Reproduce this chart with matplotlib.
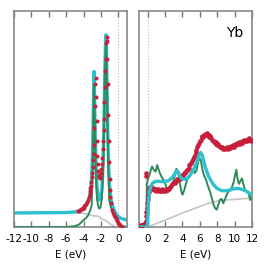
import matplotlib
matplotlib.use("Agg")
import matplotlib.pyplot as plt

plt.rcParams['axes.unicode_minus'] = False
plt.rcParams['font.family'] = ['DejaVu Sans']

CYAN = '#2fc0d0'
GREEN = '#2e8b57'
RED = '#c8203c'
GREY = '#c4c4c4'
SPINE = '#888888'

# ---------------- left panel (valence band) ----------------
left_ticks = [-12, -10, -8, -6, -4, -2, 0]

left_cyan_x = [-12, -6, -5, -4.5, -4, -3.6, -3.3, -3.15, -3.05, -2.95, -2.87, -2.8, -2.73,
               -2.65, -2.55, -2.45, -2.3, -2.2, -2.05, -1.9, -1.8, -1.7, -1.62, -1.55,
               -1.48, -1.42, -1.36, -1.28, -1.2, -1.1, -1.0, -0.8, -0.5, -0.2, 0.0, 0.3, 1.0]
left_cyan_y = [0.065, 0.067, 0.07, 0.075, 0.085, 0.105, 0.14, 0.18, 0.24, 0.36, 0.55, 0.72, 0.6,
               0.42, 0.27, 0.19, 0.14, 0.125, 0.13, 0.17, 0.24, 0.38, 0.55, 0.72,
               0.84, 0.89, 0.82, 0.62, 0.42, 0.27, 0.19, 0.12, 0.08, 0.058, 0.048, 0.04, 0.032]

left_green_x = [-12, -6, -5, -4.5, -4, -3.7, -3.46, -3.2, -3.07, -2.97, -2.88, -2.8, -2.72,
                -2.64, -2.55, -2.45, -2.3, -2.2, -2.05, -1.9, -1.8, -1.7, -1.62, -1.55,
                -1.48, -1.42, -1.36, -1.28, -1.2, -1.1, -1.04, -0.9, -0.76, -0.55, -0.38,
                -0.2, 0.0, 0.2, 0.4, 1.0]
left_green_y = [0.0, 0.0, 0.004, 0.012, 0.032, 0.042, 0.055, 0.08, 0.10, 0.22, 0.45, 0.66, 0.52,
                0.34, 0.2, 0.13, 0.095, 0.085, 0.09, 0.13, 0.2, 0.33, 0.5, 0.68,
                0.8, 0.85, 0.78, 0.56, 0.36, 0.2, 0.125, 0.1, 0.08, 0.06, 0.048,
                0.036, 0.025, 0.014, 0.005, 0.0]

left_grey_x = [-12, -4.3, -4.0, -3.4, -2.9, -2.3, -1.9, -1.3, -0.96, -0.6, -0.4, 1.0]
left_grey_y = [0.065, 0.065, 0.063, 0.058, 0.052, 0.05, 0.037, 0.026, 0.015, 0.006, 0.0, 0.0]

left_red_x = [-4.6, -4.5, -4.4, -4.3, -4.2, -4.1, -4.0, -3.9, -3.8, -3.7, -3.6, -3.5, -3.4,
              -3.3, -3.25, -3.2, -3.15, -3.1, -3.05, -3.0, -2.95, -2.9, -2.85, -2.8, -2.75,
              -2.7, -2.65, -2.6, -2.55, -2.5, -2.45, -2.4, -2.35, -2.3, -2.25, -2.2, -2.15,
              -2.1, -2.05, -2.0, -1.95, -1.9, -1.85, -1.8, -1.75, -1.7, -1.65, -1.6, -1.55,
              -1.5, -1.45, -1.4, -1.35, -1.3, -1.25, -1.2, -1.15, -1.1, -1.05, -1.0, -0.95,
              -0.9, -0.8, -0.7, -0.6, -0.5, -0.4, -0.3, -0.2, -0.1, 0.0, 0.1, 0.2, 0.3, 0.4]
left_red_y = [0.072, 0.075, 0.079, 0.082, 0.085, 0.088, 0.09, 0.095, 0.10, 0.108, 0.115, 0.125, 0.14,
              0.155, 0.165, 0.18, 0.19, 0.21, 0.23, 0.25, 0.28, 0.31, 0.34, 0.38, 0.46,
              0.56, 0.66, 0.69, 0.60, 0.49, 0.40, 0.33, 0.29, 0.26, 0.24, 0.23, 0.225,
              0.23, 0.24, 0.25, 0.27, 0.29, 0.32, 0.36, 0.40, 0.45, 0.50, 0.58, 0.65,
              0.72, 0.78, 0.85, 0.88, 0.86, 0.78, 0.66, 0.52, 0.40, 0.30, 0.22, 0.17,
              0.14, 0.11, 0.08, 0.065, 0.055, 0.048, 0.04, 0.033, 0.027, 0.02, 0.012, 0.007, 0.003, 0.001]

# ---------------- right panel (conduction band) ----------------
right_ticks = [0, 2, 4, 6, 8, 10, 12]

right_cyan_x = [-1.0, -0.05, 0.0, 0.05, 0.1, 0.2, 0.3, 0.5, 0.8, 1.2, 1.6, 2.0, 2.4, 2.8, 3.1,
                3.3, 3.5, 3.7, 4.0, 4.4, 4.8, 5.2, 5.6, 5.9, 6.1, 6.3, 6.6, 7.0, 7.5, 8.0,
                8.5, 9.0, 9.5, 10.0, 10.5, 11.0, 11.5, 12.0]
right_cyan_y = [0.0, 0.0, 0.02, 0.07, 0.12, 0.16, 0.18, 0.20, 0.21, 0.212, 0.21, 0.21, 0.215, 0.228, 0.245,
                0.26, 0.255, 0.235, 0.222, 0.22, 0.235, 0.26, 0.295, 0.33, 0.345, 0.33, 0.28, 0.235, 0.20, 0.178,
                0.168, 0.168, 0.172, 0.178, 0.178, 0.172, 0.162, 0.148]

right_green_x = [-0.15, -0.1, 0.0, 0.2, 0.4, 0.5, 0.7, 0.9, 1.1, 1.3, 1.5, 1.7, 1.9, 2.1, 2.3,
                 2.5, 2.7, 2.9, 3.1, 3.3, 3.5, 3.7, 3.9, 4.0, 4.2, 4.4, 4.6, 4.8, 5.0, 5.2,
                 5.4, 5.6, 5.8, 5.95, 6.1, 6.3, 6.5, 6.7, 6.95, 7.2, 7.4, 7.6, 7.8, 7.95,
                 8.1, 8.3, 8.5, 8.7, 8.9, 9.1, 9.3, 9.5, 9.7, 9.9, 10.05, 10.2, 10.35, 10.5,
                 10.7, 10.85, 11.0, 11.2, 11.4, 11.6, 11.8, 11.9, 12.0]
right_green_y = [0.0, 0.2, 0.22, 0.24, 0.27, 0.28, 0.265, 0.256, 0.287, 0.26, 0.24, 0.225, 0.215, 0.19, 0.16,
                 0.17, 0.19, 0.20, 0.235, 0.27, 0.255, 0.20, 0.16, 0.15, 0.17, 0.20, 0.225, 0.24, 0.255, 0.265,
                 0.25, 0.26, 0.30, 0.32, 0.31, 0.265, 0.235, 0.22, 0.187, 0.16, 0.13, 0.10, 0.085, 0.08,
                 0.10, 0.125, 0.13, 0.11, 0.13, 0.15, 0.165, 0.17, 0.185, 0.21, 0.24, 0.265, 0.22, 0.20,
                 0.215, 0.225, 0.2, 0.17, 0.165, 0.156, 0.125, 0.14, 0.13]

right_grey_x = [-1.0, 0.0, 1.0, 2.0, 3.0, 4.0, 5.0, 6.0, 7.0, 8.0, 9.0, 10.0, 11.0, 12.0]
right_grey_y = [0.0, 0.0, 0.016, 0.032, 0.048, 0.065, 0.08, 0.095, 0.11, 0.12, 0.125, 0.128, 0.131, 0.133]

right_red_x = [-1.0, -0.9, -0.8, -0.7, -0.6, -0.5, -0.4, -0.3, -0.25, -0.2, -0.15, -0.1, -0.05, 0.0,
               0.05, 0.1, 0.15, 0.2, 0.3, 0.4, 0.5, 0.6, 0.7, 0.8, 0.9, 1.0, 1.1, 1.2, 1.3, 1.4,
               1.5, 1.6, 1.7, 1.8, 1.9, 2.0, 2.1, 2.2, 2.3, 2.4, 2.5, 2.6, 2.7, 2.8, 2.9, 3.0,
               3.1, 3.2, 3.3, 3.4, 3.5, 3.6, 3.7, 3.8, 3.9, 4.0, 4.1, 4.2, 4.3, 4.4, 4.5, 4.6,
               4.7, 4.8, 4.9, 5.0, 5.1, 5.2, 5.3, 5.4, 5.5, 5.6, 5.7, 5.8, 5.9, 6.0, 6.1, 6.2,
               6.3, 6.4, 6.5, 6.6, 6.7, 6.8, 6.9, 7.0, 7.1, 7.2, 7.3, 7.4, 7.5, 7.6, 7.7, 7.8,
               7.9, 8.0, 8.1, 8.2, 8.3, 8.4, 8.5, 8.6, 8.7, 8.8, 8.9, 9.0, 9.1, 9.2, 9.3, 9.4,
               9.5, 9.6, 9.7, 9.8, 9.9, 10.0, 10.1, 10.2, 10.3, 10.4, 10.5, 10.6, 10.7, 10.8,
               10.9, 11.0, 11.1, 11.2, 11.3, 11.4, 11.5, 11.6, 11.7, 11.8, 11.9, 12.0,
               -0.22, -0.18]
right_red_y = [0.006, 0.007, 0.006, 0.008, 0.008, 0.01, 0.012, 0.02, 0.03, 0.05, 0.07, 0.09, 0.11, 0.13,
               0.15, 0.16, 0.175, 0.18, 0.185, 0.19, 0.175, 0.18, 0.172, 0.178, 0.168, 0.175, 0.17, 0.176, 0.168, 0.172,
               0.166, 0.174, 0.17, 0.165, 0.172, 0.168, 0.176, 0.17, 0.178, 0.182, 0.178, 0.186, 0.19, 0.2, 0.205, 0.21,
               0.206, 0.215, 0.212, 0.22, 0.216, 0.228, 0.222, 0.23, 0.236, 0.24, 0.236, 0.248, 0.252, 0.258, 0.262, 0.27,
               0.275, 0.285, 0.29, 0.298, 0.305, 0.315, 0.325, 0.335, 0.345, 0.355, 0.37, 0.38, 0.39, 0.4, 0.405, 0.415,
               0.42, 0.415, 0.428, 0.432, 0.425, 0.435, 0.428, 0.425, 0.418, 0.422, 0.41, 0.405, 0.4, 0.398, 0.39, 0.392,
               0.385, 0.38, 0.382, 0.375, 0.37, 0.372, 0.365, 0.37, 0.362, 0.368, 0.36, 0.365, 0.37, 0.362, 0.368, 0.372,
               0.366, 0.374, 0.37, 0.378, 0.372, 0.38, 0.385, 0.378, 0.39, 0.384, 0.392, 0.386, 0.395, 0.39,
               0.398, 0.394, 0.402, 0.396, 0.405, 0.4, 0.408, 0.402, 0.41, 0.404, 0.398, 0.402,
               0.25, 0.235]


def style_axes(ax, ticks):
    ax.set_ylim(0, 1)
    ax.set_yticks([])
    ax.set_xticks(ticks)
    ax.set_xticklabels([str(t) for t in ticks])
    ax.tick_params(axis='x', direction='in', top=True, bottom=True, length=4,
                   width=1.0, color='#777777', labelsize=7.5, pad=5)
    for s in ax.spines.values():
        s.set_color(SPINE)
        s.set_linewidth(1.2)
    ax.set_xlabel('E (eV)', fontsize=7.5, labelpad=4)
    ax.axvline(0, color='#bbbbbb', lw=0.8, ls=':', zorder=0)


fig = plt.figure(figsize=(2.66, 2.66), dpi=100)
axL = fig.add_axes([0.0526, 0.1466, 0.4248, 0.812])
axR = fig.add_axes([0.5226, 0.1466, 0.4248, 0.812])

axL.plot(left_grey_x, left_grey_y, color=GREY, lw=1.2, zorder=1)
axL.plot(left_cyan_x, left_cyan_y, color=CYAN, lw=2.4, zorder=2)
axL.plot(left_green_x, left_green_y, color=GREEN, lw=1.4, zorder=3)
axL.plot(left_red_x, left_red_y, 'o', color=RED, ms=2.9, mew=0, zorder=4)
axL.set_xlim(-12, 1)
style_axes(axL, left_ticks)

axR.plot(right_grey_x, right_grey_y, color=GREY, lw=1.2, zorder=1)
axR.plot(right_green_x, right_green_y, color=GREEN, lw=1.4, zorder=2)
axR.plot(right_red_x, right_red_y, 'o', color=RED, ms=3.3, mew=0, zorder=3)
axR.plot(right_cyan_x, right_cyan_y, color=CYAN, lw=2.4, zorder=4)
axR.set_xlim(-1, 12)
style_axes(axR, right_ticks)
axR.text(0.92, 0.9, 'Yb', transform=axR.transAxes, ha='right', va='center', fontsize=10)

fig.savefig('out.png', dpi=100)
